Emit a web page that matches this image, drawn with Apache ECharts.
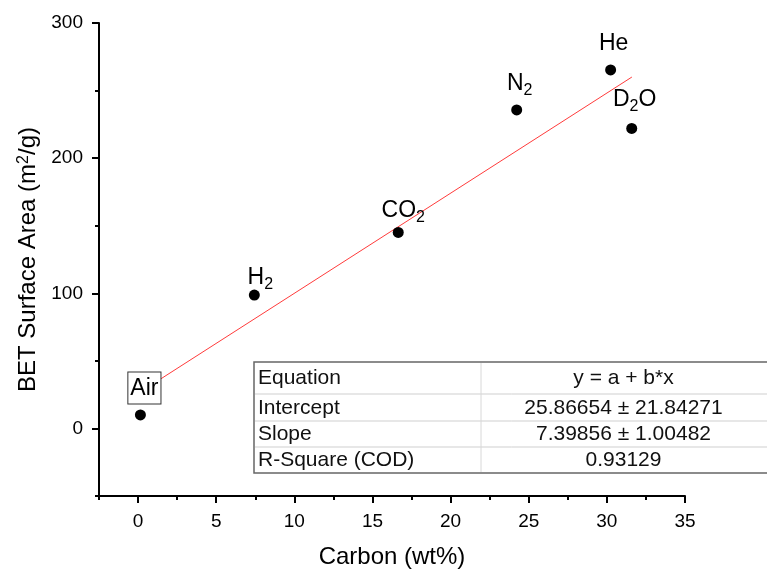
<!DOCTYPE html>
<html>
<head>
<meta charset="utf-8">
<script src="https://cdn.jsdelivr.net/npm/echarts@6/dist/echarts.min.js"></script>
<style>
html,body{margin:0;padding:0;background:#fff;}
#chart{width:767px;height:569px;}
</style>
</head>
<body>
<div id="chart"></div>
<script>
// ---- data ----
const gasNames = ['Air', 'H2', 'CO2', 'N2', 'He', 'D2O'];
const gasLabels = ['Air', 'H{s|2}', 'CO{s|2}', 'N{s|2}', 'He', 'D{s|2}O'];
const carbonWt = [0.15, 7.44, 16.65, 24.23, 30.24, 31.59];
const betArea = [10, 98.7, 145, 235.7, 265.3, 222];
const fitX = [0.15, 31.6];
const fitY = [27, 260];
const xMajorTicks = [0, 5, 10, 15, 20, 25, 30, 35];
const xMinorTicks = [-2.5, 2.5, 7.5, 12.5, 17.5, 22.5, 27.5, 32.5];
const yMajorTicks = [0, 100, 200, 300];
const yMinorTicks = [-50, 50, 150, 250];
const tableRows = [
  ['Equation', 'y = a + b*x'],
  ['Intercept', '25.86654 ± 21.84271'],
  ['Slope', '7.39856 ± 1.00482'],
  ['R-Square (COD)', '0.93129']
];

// ---- layout / style (not data) ----
const FONT = "'Liberation Sans', Arial, sans-serif";
const labelOffsets = {
  'Air': [4, -27], 'H2': [6, -17], 'CO2': [5, -22],
  'N2': [3, -26], 'He': [3, -26], 'D2O': [3, -29]
};
const tableRowY = [362, 394, 421, 447, 473];
const tableColX = [254, 481, 770];

const chart = echarts.init(document.getElementById('chart'), null, {renderer: 'canvas'});

const scatterData = gasNames.map((n, i) => {
  const item = {
    value: [carbonWt[i], betArea[i]],
    name: n,
    label: {
      show: true,
      position: 'inside',
      offset: labelOffsets[n],
      formatter: gasLabels[i]
    }
  };
  if (n === 'Air') {
    item.label.backgroundColor = '#fff';
    item.label.borderColor = '#333';
    item.label.borderWidth = 1;
    item.label.padding = [5, 2, 3, 2];
  }
  return item;
});

const richSub = {
  s: {fontSize: 16, fontFamily: FONT, color: '#000', padding: [14, 0, 0, 0]}
};

// table graphic
const tableGraphics = [];
tableGraphics.push({
  type: 'rect', z: 100,
  shape: {x: tableColX[0], y: tableRowY[0], width: tableColX[2] - tableColX[0], height: tableRowY[4] - tableRowY[0]},
  style: {fill: '#fff', stroke: '#666', lineWidth: 1.5}
});
for (let r = 1; r < 4; r++) {
  tableGraphics.push({
    type: 'line', z: 101,
    shape: {x1: tableColX[0] + 1, y1: tableRowY[r], x2: tableColX[2], y2: tableRowY[r]},
    style: {stroke: '#cfcfcf', lineWidth: 1}
  });
}
tableGraphics.push({
  type: 'line', z: 101,
  shape: {x1: tableColX[1], y1: tableRowY[0] + 1, x2: tableColX[1], y2: tableRowY[4] - 1},
  style: {stroke: '#d8d8d8', lineWidth: 1}
});
tableRows.forEach((row, r) => {
  const cy = (tableRowY[r] + tableRowY[r + 1]) / 2 + 0.5;
  tableGraphics.push({
    type: 'text', z: 102, x: tableColX[0] + 4, y: cy,
    style: {text: row[0], fill: '#111', font: '21px ' + FONT, textAlign: 'left', textVerticalAlign: 'middle'}
  });
  tableGraphics.push({
    type: 'text', z: 102, x: 623.5, y: cy,
    style: {text: row[1], fill: '#111', font: '21px ' + FONT, textAlign: 'center', textVerticalAlign: 'middle'}
  });
});

const baseAxisLine = {show: true, lineStyle: {color: '#000', width: 2}};

const option = {
  backgroundColor: '#fff',
  animation: false,
  grid: {left: 99, right: 82, top: 23, bottom: 73, containLabel: false, outerBoundsMode: 'none'},
  xAxis: [
    {
      type: 'value', min: -2.5, max: 35, position: 'bottom',
      axisLine: Object.assign({}, baseAxisLine, {onZero: false}),
      axisTick: {show: true, customValues: xMajorTicks, length: 7, lineStyle: {color: '#000', width: 2}},
      axisLabel: {customValues: xMajorTicks, fontSize: 19, color: '#000', fontFamily: FONT, margin: 16},
      splitLine: {show: false},
      name: 'Carbon (wt%)', nameLocation: 'middle', nameGap: 49,
      nameTextStyle: {fontSize: 24, color: '#000', fontFamily: FONT}
    },
    {
      type: 'value', min: -2.5, max: 35, position: 'bottom',
      axisLine: {show: false, onZero: false},
      axisTick: {show: true, customValues: xMinorTicks, length: 4, lineStyle: {color: '#000', width: 2}},
      axisLabel: {show: false},
      splitLine: {show: false}
    }
  ],
  yAxis: [
    {
      type: 'value', min: -50, max: 300, position: 'left',
      axisLine: Object.assign({}, baseAxisLine, {onZero: false}),
      axisTick: {show: true, customValues: yMajorTicks, length: 7, lineStyle: {color: '#000', width: 2}},
      axisLabel: {customValues: yMajorTicks, fontSize: 19, color: '#000', fontFamily: FONT, margin: 16},
      splitLine: {show: false},
      name: 'BET Surface Area (m{sup|2}/g)', nameLocation: 'middle', nameGap: 48,
      nameTextStyle: {
        fontSize: 24, color: '#000', fontFamily: FONT,
        rich: {sup: {fontSize: 16, fontFamily: FONT, color: '#000', padding: [0, 0, 10, 0]}}
      }
    },
    {
      type: 'value', min: -50, max: 300, position: 'left',
      axisLine: {show: false, onZero: false},
      axisTick: {show: true, customValues: yMinorTicks, length: 4, lineStyle: {color: '#000', width: 2}},
      axisLabel: {show: false},
      splitLine: {show: false}
    }
  ],
  series: [
    {
      type: 'line', xAxisIndex: 0, yAxisIndex: 0,
      data: fitX.map((x, i) => [x, fitY[i]]),
      showSymbol: false, symbol: 'none',
      lineStyle: {color: '#ff3b3b', width: 1}, z: 2, silent: true
    },
    {
      type: 'scatter', xAxisIndex: 0, yAxisIndex: 0,
      data: scatterData,
      symbol: 'circle', symbolSize: 11,
      itemStyle: {color: '#000', opacity: 1},
      label: {
        fontSize: 23, color: '#000', fontFamily: FONT,
        rich: richSub
      },
      z: 3
    }
  ],
  graphic: tableGraphics
};
chart.setOption(option);
</script>
</body>
</html>
